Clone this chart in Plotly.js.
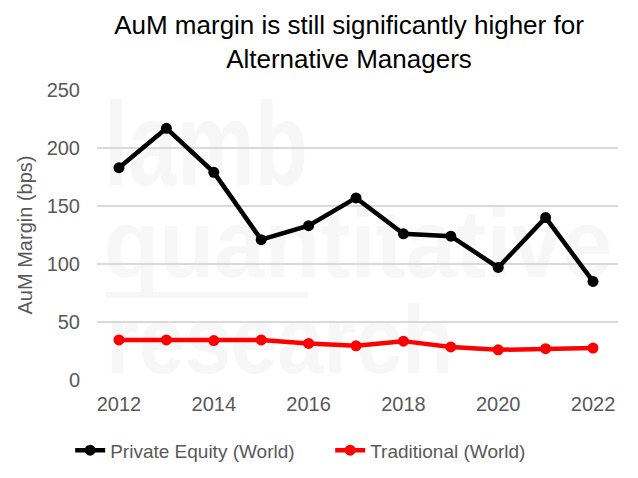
<!DOCTYPE html>
<html>
<head>
<meta charset="utf-8">
<script src="https://cdn.plot.ly/plotly-3.0.1.min.js"></script>
<style>
  html, body { margin: 0; padding: 0; background: #fff; }
  #wrap { position: relative; width: 638px; height: 478px; }
  #wm { position: absolute; left: 0; top: 0; }
  #graph { position: absolute; left: 0; top: 0; width: 638px; height: 478px; }
</style>
</head>
<body>
<div id="wrap">
  <!-- faint watermark behind the plot -->
  <svg id="wm" width="638" height="478">
    <g fill="#f7f7f7" font-family="'Liberation Sans', sans-serif" font-weight="bold">
      <text x="104" y="185" font-size="118" textLength="204" lengthAdjust="spacingAndGlyphs">lamb</text>
      <text x="104" y="277" font-size="96" textLength="508" lengthAdjust="spacingAndGlyphs">quantitative</text>
      <rect x="106" y="292" width="202" height="6"></rect>
      <text x="106" y="373" font-size="96" textLength="347" lengthAdjust="spacingAndGlyphs">research</text>
    </g>
  </svg>
  <div id="graph"></div>
</div>
<script>
const years = [2012, 2013, 2014, 2015, 2016, 2017, 2018, 2019, 2020, 2021, 2022];
const privateEquity = [183, 217, 179, 121, 133, 157, 126, 124, 97, 140, 85];
const traditional = [34.5, 34.5, 34, 34.5, 31.5, 29.5, 33.5, 28.5, 26, 27, 27.5];
const yTicks = [0, 50, 100, 150, 200, 250];
const xTicks = [2012, 2014, 2016, 2018, 2020, 2022];

const FONT = "'Liberation Sans', Arial, sans-serif";
const GREY = "#595959";

const makeTrace = (name, y, color) => ({
  x: years,
  y: y,
  name: name,
  type: "scatter",
  mode: "lines+markers",
  line: { color: color, width: 4.5 },
  marker: { color: color, size: 11 },
});

const data = [
  makeTrace("Private Equity (World)", privateEquity, "#000000"),
  makeTrace("Traditional (World)", traditional, "#ff0000"),
];

const layout = {
  width: 638,
  height: 478,
  margin: { l: 97, r: 20, t: 90, b: 98 },
  paper_bgcolor: "rgba(0,0,0,0)",
  plot_bgcolor: "rgba(0,0,0,0)",
  font: { family: FONT, color: GREY, size: 20 },
  title: {
    text: "AuM margin is still significantly higher for<br>Alternative Managers",
    font: { family: FONT, size: 26, color: "#000" },
    xref: "container", x: 0.547, xanchor: "center",
    yref: "container", y: 0.929, yanchor: "middle",
  },
  xaxis: {
    range: [2011.536, 2022.527],
    tickvals: xTicks,
    ticktext: xTicks.map(String),
    showgrid: false,
    zeroline: false,
    showline: false,
    ticks: "",
    ticklabelstandoff: 10,
    tickfont: { size: 20, color: GREY },
  },
  yaxis: {
    range: [0, 250],
    tickvals: yTicks,
    showgrid: true,
    gridcolor: "#d9d9d9",
    gridwidth: 1.5,
    zeroline: false,
    ticks: "",
    ticklabelstandoff: 16,
    tickfont: { size: 20, color: GREY },
    title: { text: "AuM Margin (bps)", font: { size: 20, color: GREY }, standoff: 8 },
  },
  showlegend: true,
  legend: {
    orientation: "h",
    xref: "container", x: 0.11, xanchor: "left",
    yref: "container", y: 0.058, yanchor: "middle",
    font: { size: 19, color: GREY },
    entrywidth: 215,
  },
};

Plotly.newPlot("graph", data, layout, { displayModeBar: false, responsive: false });
</script>
</body>
</html>
